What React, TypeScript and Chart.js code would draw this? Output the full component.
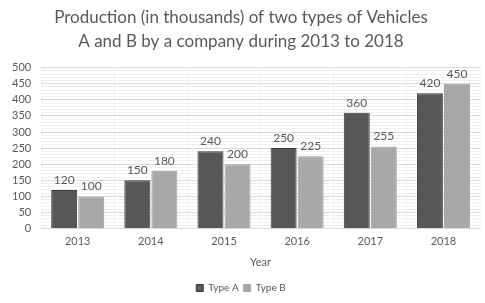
import React, { useEffect, useRef } from "react";
import { Chart, registerables } from "chart.js";

Chart.register(...registerables);

const years = ["2013", "2014", "2015", "2016", "2017", "2018"];
const typeA = [120, 150, 240, 250, 360, 420];
const typeB = [100, 180, 200, 225, 255, 450];
const titleLines = [
  "Production (in thousands) of two types of Vehicles",
  "A and B by a company during 2013 to 2018",
];

const FONT = "Lato, 'Open Sans', sans-serif";
const TEXT = "#595959";

const valueLabels = {
  id: "valueLabels",
  afterDatasetsDraw(chart: any) {
    const ctx = chart.ctx;
    ctx.save();
    ctx.fillStyle = TEXT;
    ctx.font = `12px ${FONT}`;
    ctx.textAlign = "center";
    ctx.textBaseline = "bottom";
    chart.data.datasets.forEach((ds: any, i: number) => {
      const meta = chart.getDatasetMeta(i);
      meta.data.forEach((bar: any, j: number) => {
        ctx.fillText(String(ds.data[j]), bar.x, bar.y - 4);
      });
    });
    ctx.restore();
  },
};

export default function App() {
  const ref = useRef<HTMLCanvasElement>(null);
  useEffect(() => {
    const chart = new Chart(ref.current!, {
      type: "bar",
      data: {
        labels: years,
        datasets: [
          {
            label: "Type A",
            data: typeA,
            backgroundColor: "#575757",
            borderColor: "#3a3a3a",
            borderWidth: 1,
          },
          {
            label: "Type B",
            data: typeB,
            backgroundColor: "#a8a8a8",
            borderColor: "#a0a0a0",
            borderWidth: 1,
          },
        ],
      },
      options: {
        animation: false,
        responsive: false,
        maintainAspectRatio: false,
        datasets: {
          bar: { categoryPercentage: 0.74, barPercentage: 0.96 },
        },
        layout: { padding: { left: 2, right: 5, top: 0, bottom: 0 } },
        plugins: {
          title: {
            display: true,
            text: titleLines,
            color: TEXT,
            font: { family: FONT, size: 17, weight: "normal", lineHeight: 1.4 },
            padding: { top: 6, bottom: 14 },
          },
          legend: {
            position: "bottom",
            labels: {
              color: TEXT,
              font: { family: FONT, size: 10 },
              boxWidth: 7,
              boxHeight: 7,
              padding: 5,
            },
          },
          tooltip: { enabled: false },
        },
        scales: {
          x: {
            grid: { display: true, color: "#f3f3f3", drawTicks: false },
            border: { display: false },
            ticks: { color: TEXT, font: { family: FONT, size: 11 }, padding: 6 },
            title: {
              display: true,
              text: "Year",
              color: TEXT,
              font: { family: FONT, size: 11 },
              padding: { top: 2, bottom: 9 },
            },
          },
          y: {
            min: 0,
            max: 500,
            grid: {
              color: (c: any) =>
                c.tick && c.tick.value % 50 === 0 ? "#d9d9d9" : "#f0f0f0",
              drawTicks: false,
            },
            border: { display: false },
            ticks: {
              stepSize: 10,
              autoSkip: false,
              color: TEXT,
              font: { family: FONT, size: 11 },
              padding: 10,
              callback: (v: any) => (v % 50 === 0 ? String(v) : ""),
            },
          },
        },
      },
      plugins: [valueLabels],
    });
    return () => chart.destroy();
  }, []);
  return (
    <div style={{ position: "fixed", left: 0, top: 0, width: 485, height: 303, background: "#fff" }}>
      <canvas ref={ref} width={485} height={303} />
    </div>
  );
}
